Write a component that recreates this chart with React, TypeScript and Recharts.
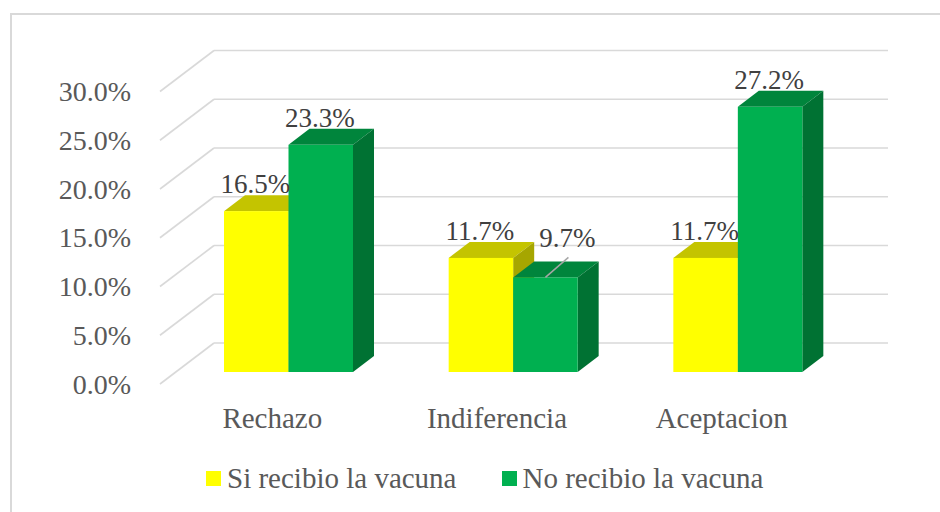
import { BarChart, Bar, XAxis, YAxis, CartesianGrid, LabelList, Legend } from 'recharts';

const categories = ['Rechazo', 'Indiferencia', 'Aceptacion'];
const siRecibio = [16.5, 11.7, 11.7];
const noRecibio = [23.3, 9.7, 27.2];
const yTicks = [0, 5, 10, 15, 20, 25, 30];
const seriesNames = ['Si recibio la vacuna', 'No recibio la vacuna'];

const FONT = "'Liberation Serif', 'DejaVu Serif', serif";
const GRID = '#d9d9d9';
// 3d offsets: bar depth, back wall and front edge of the floor
const DX = 21;
const DY = 16;
const BACK = { dx: 38, dy: -29 };
const FRONT = { dx: -16, dy: 12 };

const palette = [
  { front: '#FFFF00', top: '#C4C400', side: '#A6A600' },
  { front: '#00B050', top: '#00853C', side: '#007233' },
];

const data = categories.map((name, i) => ({ name, si: siRecibio[i], no: noRecibio[i] }));

function makeBox(c: { front: string; top: string; side: string }) {
  return (p: any) => {
    const { x, y, width: w, height: h } = p;
    const b = y + h;
    return (
      <g>
        <polygon points={`${x},${y} ${x + w},${y} ${x + w + DX},${y - DY} ${x + DX},${y - DY}`} fill={c.top} />
        <polygon points={`${x + w},${y} ${x + w + DX},${y - DY} ${x + w + DX},${b - DY} ${x + w},${b}`} fill={c.side} />
        <rect x={x} y={y} width={w} height={h} fill={c.front} />
      </g>
    );
  };
}

function makeLabel(leaderIndex: number) {
  return (p: any) => {
    const { x, y, width, value, index } = p;
    const cx = x + width / 2;
    if (index === leaderIndex) {
      return (
        <g>
          <line x1={cx} y1={y} x2={cx + 23} y2={y - 20} stroke="#a6a6a6" strokeWidth={1.5} />
          <text x={cx + 22} y={y - 30} textAnchor="middle" fontSize={27} fontFamily={FONT} fill="#404040">
            {`${Number(value).toFixed(1)}%`}
          </text>
        </g>
      );
    }
    return (
      <text x={cx - 1} y={y - 18} textAnchor="middle" fontSize={27} fontFamily={FONT} fill="#404040">
        {`${Number(value).toFixed(1)}%`}
      </text>
    );
  };
}

const gridLine = (p: any) => {
  const { x1, x2, y1 } = p;
  return (
    <g key={p.key}>
      <line x1={x1 + FRONT.dx} y1={y1 + FRONT.dy} x2={x1 + BACK.dx} y2={y1 + BACK.dy} stroke={GRID} strokeWidth={1.6} />
      <line x1={x1 + BACK.dx} y1={y1 + BACK.dy} x2={x2 + BACK.dx} y2={y1 + BACK.dy} stroke={GRID} strokeWidth={1.6} />
    </g>
  );
};

const yTick = (p: any) => (
  <text x={131} y={p.y + FRONT.dy} textAnchor="end" dominantBaseline="central" fontSize={28} fontFamily={FONT} fill="#595959">
    {`${Number(p.payload.value).toFixed(1)}%`}
  </text>
);

const xTick = (p: any) => (
  <text x={p.x + FRONT.dx} y={428} textAnchor="middle" fontSize={29} fontFamily={FONT} fill="#595959">
    {p.payload.value}
  </text>
);

const legendContent = () => (
  <div style={{ display: 'flex', alignItems: 'center', marginLeft: 206, fontFamily: FONT, fontSize: 29, lineHeight: '29px', color: '#595959' }}>
    {seriesNames.map((n, i) => (
      <div key={n} style={{ display: 'flex', alignItems: 'center', marginRight: 45 }}>
        <span style={{ width: 15, height: 15, background: palette[i].front, marginRight: 6, display: 'inline-block' }} />
        <span style={{ whiteSpace: 'nowrap' }}>{n}</span>
      </div>
    ))}
  </div>
);

export default function App() {
  return (
    <div style={{ position: 'fixed', left: 0, top: 0, width: 940, height: 512, overflow: 'hidden', background: '#fff' }}>
      <div style={{ position: 'absolute', left: 10, top: 13, width: 960, height: 540, border: `2px solid ${GRID}`, boxSizing: 'border-box' }} />
      <div style={{ position: 'absolute', left: 0, top: 0 }}>
        <BarChart width={940} height={512} data={data} margin={{ top: 79.5, right: 90, left: 0, bottom: 80 }} barGap={0} barSize={64.5}>
          <CartesianGrid vertical={false} horizontal={gridLine} />
          <XAxis dataKey="name" axisLine={false} tickLine={false} height={60} tick={xTick} interval={0} />
          <YAxis domain={[0, 30]} ticks={yTicks} axisLine={false} tickLine={false} width={176} tick={yTick} />
          <Legend layout="horizontal" verticalAlign="middle" align="center" wrapperStyle={{ top: 464, left: 0, width: 940 }} content={legendContent} />
          <Bar dataKey="si" name={seriesNames[0]} fill={palette[0].front} shape={makeBox(palette[0])} isAnimationActive={false}>
            <LabelList dataKey="si" content={makeLabel(-1)} />
          </Bar>
          <Bar dataKey="no" name={seriesNames[1]} fill={palette[1].front} shape={makeBox(palette[1])} isAnimationActive={false}>
            <LabelList dataKey="no" content={makeLabel(1)} />
          </Bar>
        </BarChart>
      </div>
    </div>
  );
}
